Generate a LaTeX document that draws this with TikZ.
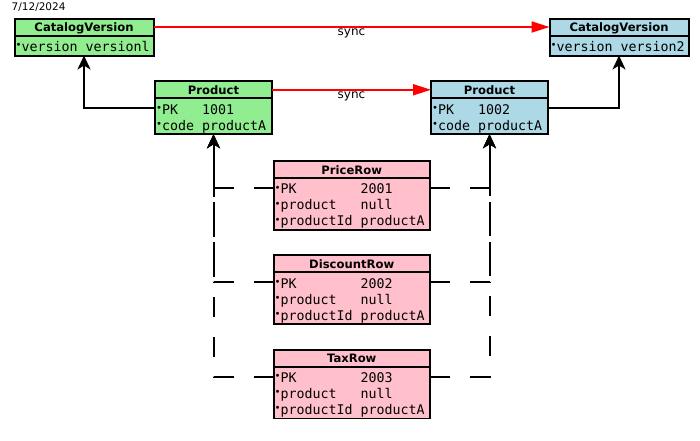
\documentclass[tikz,border=0pt]{standalone}
\usepackage{fontspec}
\setmainfont{DejaVu Sans}
\newfontfamily\monofnt{DejaVu Sans Mono}
\usetikzlibrary{arrows.meta,positioning}
\definecolor{tblgreen}{HTML}{90EE90}
\definecolor{tblblue}{HTML}{ADD8E6}
\definecolor{tblpink}{HTML}{FFC0CB}
\newcommand{\fb}{\raisebox{2.6pt}{\fontsize{10}{10}\selectfont •}}
\newcommand{\fields}[2]{\makebox[#1][l]{\raisebox{-2.6pt}[\height][\depth]{\monofnt\fontsize{13.3}{16}\selectfont\begin{tabular}{@{}l@{\hspace{8pt}}l@{}}#2\end{tabular}}}}

\begin{document}
\begin{tikzpicture}[x=1pt,y=-1pt,
    hdr/.style={draw, line width=2pt, outer sep=0pt, inner ysep=0pt, minimum height=17pt,
      text height=13.3pt, text depth=3.7pt, font=\bfseries\fontsize{11.6}{12}\selectfont},
    fld/.style={draw, line width=2pt, outer sep=0pt, inner ysep=0pt, inner xsep=1pt},
    sync/.style={red, line width=1.8pt, -{Triangle[length=18pt,width=11pt]}},
    ref/.style={line width=2pt, -{Stealth[length=14pt,width=13pt,inset=4pt]}},
    rowref/.style={ref, dash pattern=on 20pt off 20pt}]
    \useasboundingbox (0,0) rectangle (700,440);
    \node[anchor=base west, inner sep=0pt, font=\fontsize{10.5}{12}\selectfont] (date) at (11.5,10) {7/12/2024};

    \begin{scope}
    \clip (0,0) rectangle (700,418.5);

    % catalog versions
    \node[hdr, fill=tblgreen, minimum width=139pt] (cvA) at (84,27) {CatalogVersion};
    \node[fld, fill=tblgreen, minimum width=139pt, minimum height=20pt, below=0pt of cvA] (cvAf)
        {\fields{137pt}{\fb version & versionl}};
    \node[hdr, fill=tblblue, minimum width=139pt] (cvB) at (619,27) {CatalogVersion};
    \node[fld, fill=tblblue, minimum width=139pt, minimum height=20pt, below=0pt of cvB] (cvBf)
        {\fields{137pt}{\fb version & version2}};

    % products
    \node[hdr, fill=tblgreen, minimum width=117pt] (pA) at (213.5,89.75) {Product};
    \node[fld, fill=tblgreen, minimum width=117pt, minimum height=36pt, below=0pt of pA] (pAf)
        {\fields{115pt}{\fb PK & 1001\\ \fb code & productA}};
    \node[hdr, fill=tblblue, minimum width=117pt] (pB) at (489.5,89.75) {Product};
    \node[fld, fill=tblblue, minimum width=117pt, minimum height=36pt, below=0pt of pB] (pBf)
        {\fields{115pt}{\fb PK & 1002\\ \fb code & productA}};

    % rows
    \node[hdr, fill=tblpink, minimum width=156.5pt] (price) at (351.75,169.5) {PriceRow};
    \node[fld, fill=tblpink, minimum width=156.5pt, minimum height=52pt, below=0pt of price] (priceF)
        {\fields{154.5pt}{\fb PK & 2001\\ \fb product & null\\ \fb productId & productA}};
    \node[hdr, fill=tblpink, minimum width=156.5pt] (discount) at (351.75,263.75) {DiscountRow};
    \node[fld, fill=tblpink, minimum width=156.5pt, minimum height=52pt, below=0pt of discount] (discountF)
        {\fields{154.5pt}{\fb PK & 2002\\ \fb product & null\\ \fb productId & productA}};
    \node[hdr, fill=tblpink, minimum width=156.5pt] (tax) at (351.75,358) {TaxRow};
    \node[fld, fill=tblpink, minimum width=156.5pt, minimum height=52pt, below=0pt of tax] (taxF)
        {\fields{154.5pt}{\fb PK & 2003\\ \fb product & null\\ \fb productId & productA}};

    % sync
    \draw[sync] (cvA.east) -- (cvB.west)
        node[midway, anchor=base, yshift=-8.5pt, text=black, font=\fontsize{12}{14}\selectfont] (syncA) {sync};
    \draw[sync] (pA.east) -- (pB.west)
        node[midway, anchor=base, yshift=-8.5pt, text=black, font=\fontsize{12}{14}\selectfont] (syncB) {sync};

    % references
    \draw[ref] ([yshift=-10pt]pAf.north west) -| (cvAf.south);
    \draw[ref] ([yshift=-10pt]pBf.north east) -| (cvBf.south);
    \draw[rowref] ([yshift=-10pt]priceF.north west) -| (pAf.south);
    \draw[rowref] ([yshift=-10pt]discountF.north west) -| (pAf.south);
    \draw[rowref] ([yshift=-10pt]taxF.north west) -| (pAf.south);
    \draw[rowref] ([yshift=-10pt]priceF.north east) -| (pBf.south);
    \draw[rowref] ([yshift=-10pt]discountF.north east) -| (pBf.south);
    \draw[rowref] ([yshift=-10pt]taxF.north east) -| (pBf.south);
    \end{scope}
\end{tikzpicture}
\end{document}
